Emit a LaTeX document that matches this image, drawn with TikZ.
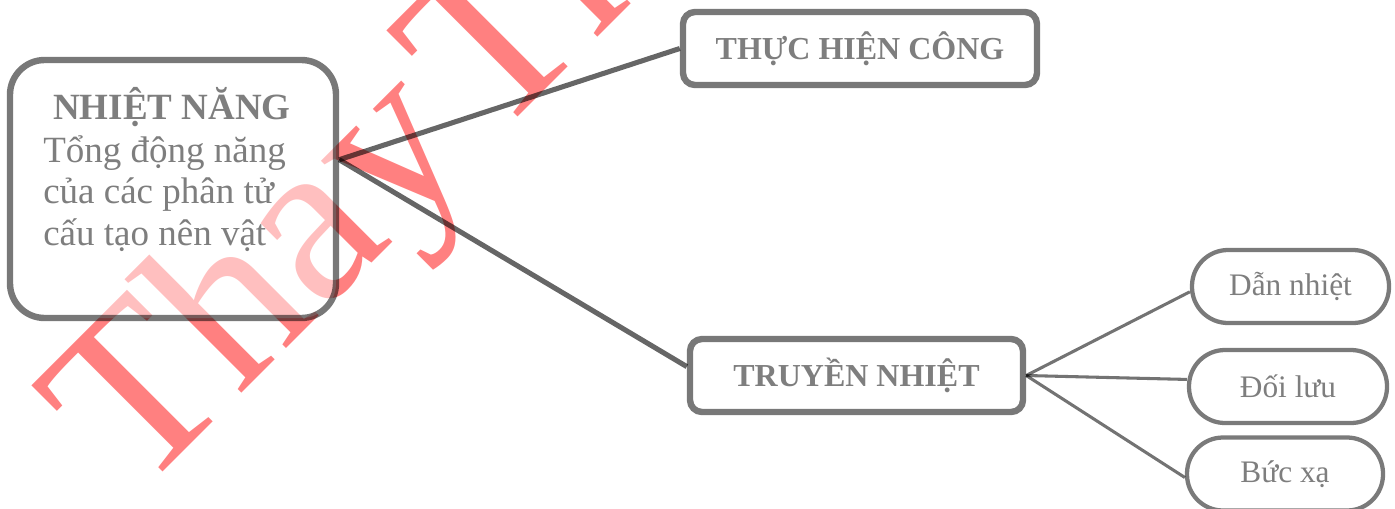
\documentclass[tikz,border=0pt]{standalone}
\usepackage{fontspec}
\setmainfont{Liberation Serif}
\definecolor{txt}{RGB}{126,126,126}
\definecolor{wmred}{RGB}{255,128,128}
\begin{document}
\begin{tikzpicture}[x=0.75pt,y=-0.75pt,
  box/.style={rectangle, draw=black, draw opacity=0.53, line width=4.8pt,
    fill=white, fill opacity=0.5, text opacity=1, text=txt, inner sep=0pt,
    rounded corners=9pt, minimum height=54.75pt,
    font=\bfseries\fontsize{24}{28}\selectfont},
  pill/.style={rectangle, draw=black, draw opacity=0.52, line width=3.2pt,
    fill=white, fill opacity=0.5, text opacity=1, text=txt, inner sep=0pt,
    rounded corners=27pt, minimum height=54.75pt,
    font=\fontsize{23.5}{28}\selectfont},
  nntext/.style={text=txt, inner sep=0pt, font=\fontsize{27.75}{31}\selectfont},
  wmark/.style={text=wmred, inner sep=0pt, anchor=base west, rotate=45,
    font=\fontsize{176}{176}\selectfont},
  link/.style={draw=black, draw opacity=0.6, line width=3.8pt},
  sublink/.style={draw=black, draw opacity=0.55, line width=2.3pt}
]
\useasboundingbox (0,0) rectangle (1395,508);
\clip (0,0) rectangle (1395,508);
% watermark
\node[wmark] (wm) at (137,498) {Thay\hspace{0.09em}Th};
% main box
\node[box, rounded corners=26pt, minimum width=244.5pt, minimum height=193.5pt] (nn) at (173,189) {};
\node[nntext, font=\bfseries\fontsize{27.75}{31}\selectfont, anchor=base] (t0) at (172,119) {NHIỆT NĂNG};
\node[nntext, anchor=base west] (t1) at (43,162) {Tổng động năng};
\node[nntext, anchor=base west] (t2) at (43,203.5) {của các phân tử};
\node[nntext, anchor=base west] (t3) at (43,245) {cấu tạo nên vật};
% level 2
\node[box, minimum width=265.5pt] (th) at (860,48.5) {THỰC HIỆN CÔNG};
\node[box, minimum width=249.75pt] (tr) at (856.5,375.5) {TRUYỀN NHIỆT};
% level 3
\node[pill, minimum width=147.75pt] (dn) at (1290.5,286.5) {Dẫn nhiệt};
\node[pill, minimum width=148.5pt] (dl) at (1288,386.5) {Đối lưu};
\node[pill, minimum width=147pt] (bx) at (1285,474) {Bức xạ};
% connectors
\draw[link] (nn.10) -- (th.west);
\draw[link] (nn.10) -- (tr.177);
\draw[sublink] (tr.east) -- (dn.183);
\draw[sublink] (tr.east) -- (dl.176);
\draw[sublink] (tr.east) -- (bx.182);
\end{tikzpicture}
\end{document}
